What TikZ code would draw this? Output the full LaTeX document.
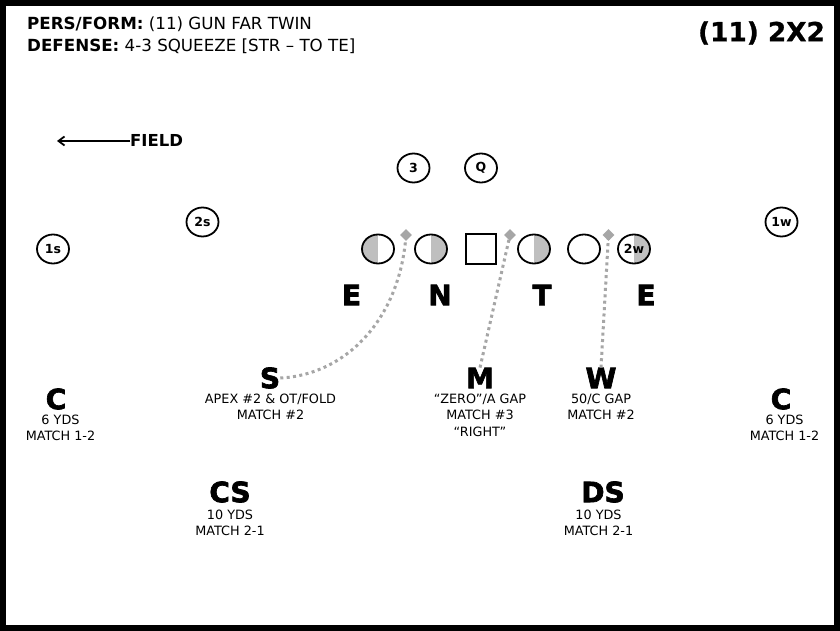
\documentclass[tikz,border=0pt]{standalone}
\usepackage{fontspec}
\setmainfont{DejaVu Sans}
\newfontfamily\blackfont{DejaVu Sans Bold}[FakeBold=2.4]
\newfontfamily\titlefont{DejaVu Sans Bold}[FakeBold=1]
\usetikzlibrary{shapes.geometric,arrows.meta}
\tikzset{
  player/.style={ellipse,draw=black,line width=1.8pt,minimum width=32pt,minimum height=29pt,inner sep=0pt,font=\fontsize{12.5}{14}\selectfont\bfseries},
  halfL/.style={player,path picture={\fill[black!25] (path picture bounding box.south west) rectangle (path picture bounding box.north);}},
  halfR/.style={player,path picture={\fill[black!25] (path picture bounding box.south) rectangle (path picture bounding box.north east);}},
  center/.style={rectangle,draw=black,line width=1.8pt,minimum size=30pt,inner sep=0pt},
  tipmark/.style={diamond,fill=black!35,minimum size=12pt,inner sep=0pt},
  route/.style={draw=black!35,line width=3pt,dash pattern=on 3pt off 3.4pt},
  letter/.style={font=\fontsize{28}{28}\selectfont\blackfont,inner sep=0pt},
  note/.style={align=center,inner sep=0pt,font=\fontsize{12.8}{16.5}\selectfont},
  head/.style={anchor=west,inner sep=0pt,font=\fontsize{16.7}{18}\selectfont}
}
\begin{document}
\begin{tikzpicture}[x=1pt,y=-1pt]
\useasboundingbox (0,0) rectangle (840,631);
\fill[white] (0,0) rectangle (840,631);
\draw[black,line width=6pt] (3,3) rectangle (837,628);
\node[head] (h1) at (27,24) {\textbf{PERS/FORM:} (11) GUN FAR TWIN};
\node[head] (h2) at (27,46) {\textbf{DEFENSE:} 4-3 SQUEEZE [STR -- TO TE]};
\node[anchor=east,inner sep=0pt,font=\fontsize{26.3}{28}\selectfont\titlefont] (title) at (825,33) {(11) 2X2};
\node[anchor=west,inner sep=0pt,font=\fontsize{16.5}{18}\selectfont\bfseries] (field) at (130,140) {FIELD};
\coordinate (fieldtip) at (57,141);
\draw[line width=1.8pt,-{Straight Barb[length=6pt,width=9pt]}] (field.west |- fieldtip) -- (fieldtip);
\node[player] (n3) at (413.5,168) {3};
\node[player] (nq) at (481,168) {Q};
\node[player] (n1s) at (53,249) {1s};
\node[player] (n2s) at (202.5,222) {2s};
\node[player] (n1w) at (781.5,222) {1w};
\node[halfL] (le) at (378,249) {};
\node[halfR] (ln) at (431,249) {};
\node[center] (ctr) at (481,249) {};
\node[halfR] (lt) at (534,249) {};
\node[player] (lo) at (584,249) {};
\node[halfR] (n2w) at (634,249) {2w};
\node[tipmark] (d1) at (406,235) {};
\node[tipmark] (d2) at (510,235) {};
\node[tipmark] (d3) at (608.5,235) {};
\node[letter] (ee) at (351.5,295) {E};
\node[letter] (en) at (440,295) {N};
\node[letter] (et) at (542,295) {T};
\node[letter] (e2) at (646,295) {E};
\node[letter] (ls) at (270,378) {S};
\node[letter] (lm) at (480,378) {M};
\node[letter] (lw) at (601,378) {W};
\node[letter] (lc1) at (56,399) {C};
\node[letter] (lc2) at (781,399) {C};
\node[letter] (lcs) at (230,492) {CS};
\node[letter] (lds) at (603,492) {DS};
\node[note,anchor=north] (ts) at (270.5,393.5) {APEX \#2 \& OT/FOLD\\MATCH \#2};
\node[note,anchor=north] (tm) at (480,393.5) {“ZERO”/A GAP\\MATCH \#3\\“RIGHT”};
\node[note,anchor=north] (tw) at (601,393.5) {50/C GAP\\MATCH \#2};
\node[note,anchor=north] (tc1) at (60.5,414.5) {6 YDS\\MATCH 1-2};
\node[note,anchor=north] (tc2) at (784.5,414.5) {6 YDS\\MATCH 1-2};
\node[note,anchor=north] (tcs) at (230,509.5) {10 YDS\\MATCH 2-1};
\node[note,anchor=north] (tds) at (598.5,509.5) {10 YDS\\MATCH 2-1};
\path[route] (ls.east) .. controls (345,375) and (400,320) .. (d1.center);
\path[route] (lm.north) -- (d2.center);
\path[route] (lw.north) -- (d3.center);
\end{tikzpicture}
\end{document}
